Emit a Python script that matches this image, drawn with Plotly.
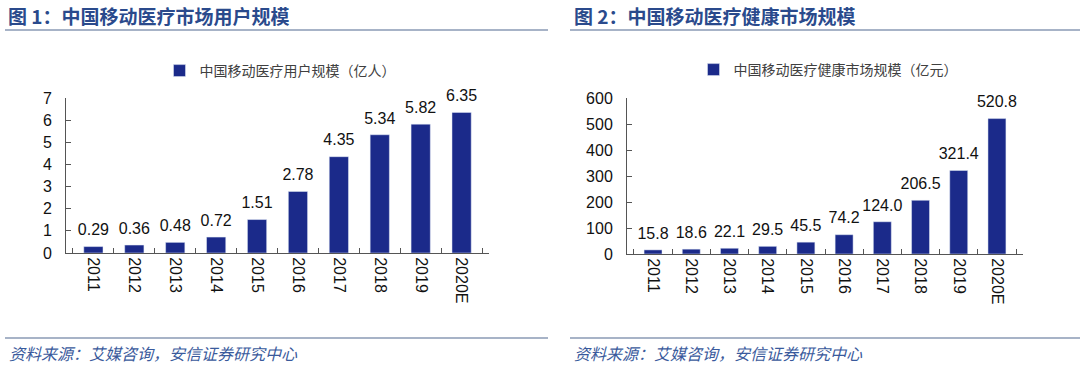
import plotly.graph_objects as go

years = ["2011", "2012", "2013", "2014", "2015", "2016", "2017", "2018", "2019", "2020E"]
users = [0.29, 0.36, 0.48, 0.72, 1.51, 2.78, 4.35, 5.34, 5.82, 6.35]
market = [15.8, 18.6, 22.1, 29.5, 45.5, 74.2, 124.0, 206.5, 321.4, 520.8]
user_labels = ["0.29", "0.36", "0.48", "0.72", "1.51", "2.78", "4.35", "5.34", "5.82", "6.35"]
market_labels = ["15.8", "18.6", "22.1", "29.5", "45.5", "74.2", "124.0", "206.5", "321.4", "520.8"]

title1 = "图 1：中国移动医疗市场用户规模"
title2 = "图 2：中国移动医疗健康市场规模"
legend1 = "中国移动医疗用户规模（亿人）"
legend2 = "中国移动医疗健康市场规模（亿元）"
source = "资料来源：艾媒咨询，安信证券研究中心"

W, H = 1080, 369
BAR = "#1B2A8A"
NUM_FONT = "Liberation Sans, Arial, sans-serif"
CJK_FONT = "Noto Sans CJK SC, sans-serif"
HEAD = "#2A4A8C"
LINE = "#8A9AB5"

def px(x):
    return x / W

def py(y):
    return 1 - y / H

fig = go.Figure()

label_font = dict(size=16, color="#111", family=NUM_FONT)
fig.add_trace(go.Bar(x=years, y=users, marker_color=BAR, name=legend1,
                     xaxis="x", yaxis="y", legend="legend", hoverinfo="x+y"))
fig.add_trace(go.Scatter(x=years, y=users, text=user_labels, mode="markers+text",
                         marker=dict(size=10, opacity=0),
                         textposition="top center", textfont=label_font,
                         xaxis="x", yaxis="y", showlegend=False, hoverinfo="skip", cliponaxis=False))
fig.add_trace(go.Bar(x=years, y=market, marker_color=BAR, name=legend2,
                     xaxis="x2", yaxis="y2", legend="legend2", hoverinfo="x+y"))
fig.add_trace(go.Scatter(x=years, y=market, text=market_labels, mode="markers+text",
                         marker=dict(size=10, opacity=0),
                         textposition="top center", textfont=label_font,
                         xaxis="x2", yaxis="y2", showlegend=False, hoverinfo="skip", cliponaxis=False))

common_x = dict(type="category", showline=True, linecolor="#555", linewidth=1,
                ticks="inside", ticklen=5, tickcolor="#555", tickson="boundaries",
                tickangle=90, tickfont=dict(size=16, family=NUM_FONT, color="#111"),
                showgrid=False, zeroline=False, fixedrange=True, automargin=False)
common_y = dict(showline=True, linecolor="#555", linewidth=1, ticks="inside", ticklen=5,
                tickcolor="#555", tickfont=dict(size=16, family=NUM_FONT, color="#111"),
                showgrid=False, zeroline=False, ticklabelstandoff=10, fixedrange=True,
                automargin=False)

fig.update_layout(
    width=W, height=H,
    margin=dict(l=0, r=0, t=0, b=0, pad=0, autoexpand=False),
    paper_bgcolor="white", plot_bgcolor="white",
    bargap=0.53,
    xaxis=dict(domain=[px(66), px(489)], anchor="y", **common_x),
    yaxis=dict(domain=[py(253), py(98)], anchor="x", range=[0, 7], dtick=1, **common_y),
    xaxis2=dict(domain=[px(627), px(1023)], anchor="y2", **common_x),
    yaxis2=dict(domain=[py(254), py(98)], anchor="x2", range=[0, 600], dtick=100, **common_y),
    legend=dict(x=px(280), y=py(71), xanchor="center", yanchor="middle", orientation="h",
                font=dict(size=14, family=CJK_FONT, color="#404040"), bgcolor="rgba(0,0,0,0)",
                itemwidth=30),
    legend2=dict(x=px(828), y=py(70), xanchor="center", yanchor="middle", orientation="h",
                 font=dict(size=14, family=CJK_FONT, color="#404040"), bgcolor="rgba(0,0,0,0)",
                 itemwidth=30),
    showlegend=True,
)

annotations = [
    dict(text="<b>" + title1 + "</b>", x=px(6), y=py(15), xanchor="left", yanchor="middle",
         font=dict(size=19, family=CJK_FONT, color=HEAD)),
    dict(text="<b>" + title2 + "</b>", x=px(572), y=py(15), xanchor="left", yanchor="middle",
         font=dict(size=19, family=CJK_FONT, color=HEAD)),
    dict(text="<i>" + source + "</i>", x=px(7), y=py(353), xanchor="left", yanchor="middle",
         font=dict(size=16, family=CJK_FONT, color="#3A5A9C")),
    dict(text="<i>" + source + "</i>", x=px(572), y=py(353), xanchor="left", yanchor="middle",
         font=dict(size=16, family=CJK_FONT, color="#3A5A9C")),
]
for a in annotations:
    a.update(xref="paper", yref="paper", showarrow=False)
fig.update_layout(annotations=annotations)

shapes = []
for y in (30, 338):
    shapes.append(dict(type="line", x0=px(5), x1=px(548), y0=py(y), y1=py(y),
                       line=dict(color=LINE, width=1.5)))
    shapes.append(dict(type="line", x0=px(570), x1=px(1080), y0=py(y), y1=py(y),
                       line=dict(color=LINE, width=1.5)))
for s in shapes:
    s.update(xref="paper", yref="paper")
fig.update_layout(shapes=shapes)

fig.write_html("out.html",
               config={"displayModeBar": False},
               post_script="document.body.style.margin='0';document.body.style.overflow='hidden';")
